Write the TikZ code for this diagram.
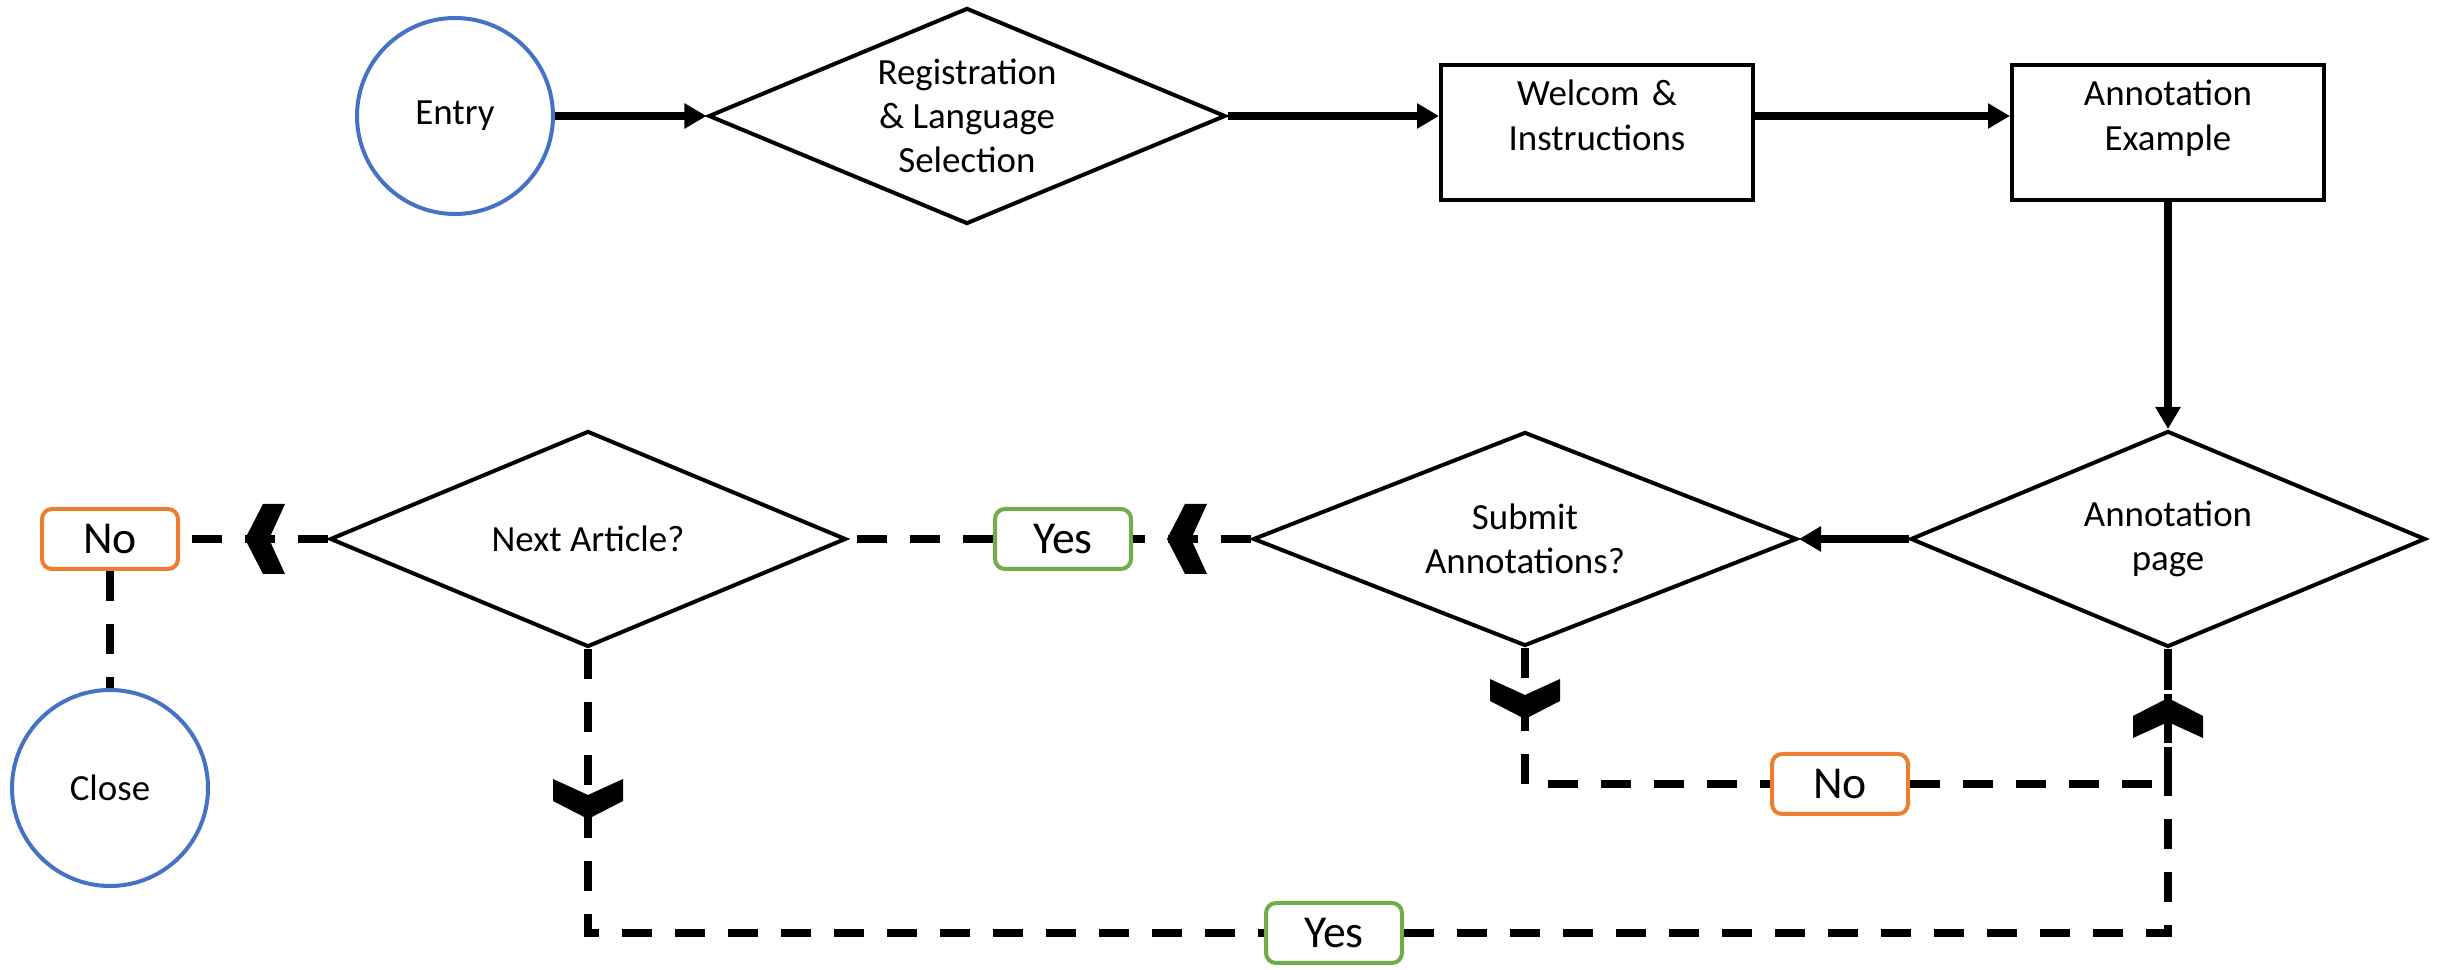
\documentclass[tikz,border=0pt]{standalone}
\usepackage{fontspec}
\setmainfont{Carlito}
\usetikzlibrary{shapes.geometric,arrows.meta,calc}
\definecolor{circblue}{HTML}{4472C4}
\definecolor{noorange}{HTML}{ED7D31}
\definecolor{yesgreen}{HTML}{70AD47}
\tikzset{
	flow/.style={line width=0.08cm,-{Triangle[length=0.22cm,width=0.24cm]}},
	flowdash/.style={line width=0.08cm,dash pattern=on 0.3cm off 0.23cm},
	endpoint/.style={circle,draw=circblue,line width=0.04cm,minimum size=1.96cm,inner sep=0pt,font=\fontsize{10.5}{12.6}\selectfont},
	choice/.style={diamond,draw,line width=0.04cm,inner sep=0pt,shape aspect=2.4,align=center,font=\fontsize{10.5}{12.6}\selectfont},
	stepbox/.style={rectangle,draw,line width=0.04cm,inner sep=0pt,text width=3.12cm,align=center,text height=11.4pt,text depth=27pt,font=\fontsize{10.5}{12.8}\selectfont},
	answer/.style={rectangle,rounded corners=0.1cm,draw,line width=0.04cm,fill=white,minimum width=1.36cm,minimum height=0.6cm,inner sep=0pt,font=\fontsize{13}{15}\selectfont},
	chevron/.pic={\fill (0,0) -- (-0.18,0.35) -- (-0.40,0.35) -- (-0.24,0) -- (-0.40,-0.35) -- (-0.18,-0.35) -- cycle;}
}
\begin{document}
\begin{tikzpicture}
				\useasboundingbox (0,0) rectangle (24.38,9.70);
				\node[endpoint] (entry) at (4.55,8.54) {Entry};
				\node[choice,minimum width=5.17cm,minimum height=2.16cm] (reg) at (9.67,8.54) {Registration\\\& Language\\Selection};
				\node[stepbox] (welcom) at (15.97,8.375) {Welcom \&\\Instructions};
				\node[stepbox] (annex) at (21.68,8.375) {Annotation\\Example};
				\node[choice,minimum width=5.15cm,minimum height=2.16cm] (annot) at (21.68,4.31) {Annotation\\page};
				\node[choice,minimum width=5.44cm,minimum height=2.14cm] (submit) at (15.25,4.31) {Submit\\Annotations?};
				\node[choice,minimum width=5.16cm,minimum height=2.16cm] (next) at (5.88,4.31) {Next Article?};
				\node[answer,draw=yesgreen] (yes1) at (10.63,4.31) {Yes};
				\node[answer,draw=noorange] (no1) at (1.10,4.31) {No};
				\node[answer,draw=noorange] (no2) at (18.40,1.86) {No};
				\node[answer,draw=yesgreen] (yes2) at (13.34,0.37) {Yes};
				\node[endpoint] (close) at (1.10,1.82) {Close};
				\draw[flow] (entry) -- (reg);
				\draw[flow] (reg.east) -- (reg.east -| welcom.west);
				\draw[flow] (reg.east -| welcom.east) -- (reg.east -| annex.west);
				\draw[flow] (annex) -- (annot);
				\draw[flow] (annot) -- (submit);
				\draw[flowdash] (submit) -- (yes1);
				\draw[flowdash] (yes1) -- (next);
				\draw[flowdash] (next) -- (no1);
				\draw[flowdash] (no1) -- (close);
				\draw[flowdash] (submit.south) |- (no2);
				\draw[flowdash] (no2) -| (annot.south);
				\draw[flowdash] (next.south) |- (yes2);
				\draw[flowdash] (yes2) -| (annot.south);
				\pic[rotate=180] at ($(next.west)+(-0.83,0)$) {chevron};
				\pic[rotate=180] at ($(submit.west)+(-0.84,0)$) {chevron};
				\pic[rotate=-90] at ($(submit.south)+(0,-0.71)$) {chevron};
				\pic[rotate=-90] at ($(next.south)+(0,-1.70)$) {chevron};
				\pic[rotate=90] at ($(annot.south)+(0,-0.49)$) {chevron};
\end{tikzpicture}
\end{document}
